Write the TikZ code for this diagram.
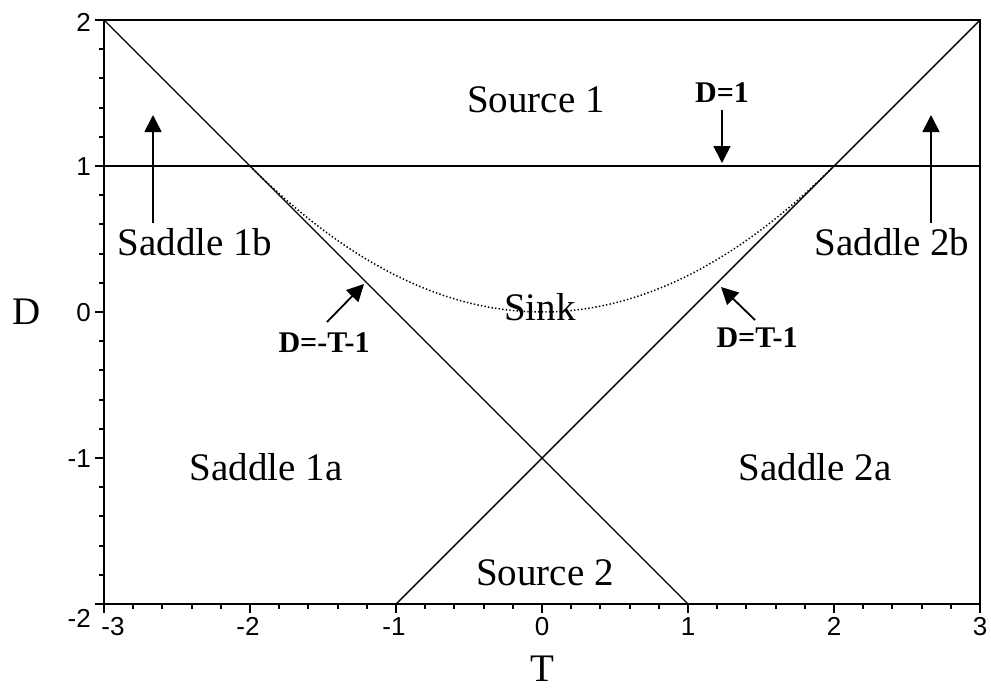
\documentclass[tikz,border=0pt]{standalone}
\usepackage{fontspec}
\setmainfont{Liberation Serif}
\setsansfont{Liberation Sans}
\usetikzlibrary{arrows.meta}
\begin{document}
\begin{tikzpicture}[x=1pt,y=-1pt,
  region/.style={font=\fontsize{39}{39}\selectfont, inner sep=0pt, anchor=base},
  eqlabel/.style={font=\bfseries\fontsize{30}{30}\selectfont, inner sep=0pt, anchor=base},
  axlabel/.style={font=\fontsize{39}{39}\selectfont, inner sep=0pt, anchor=base},
  ticklabel/.style={font=\sffamily\fontsize{26}{26}\selectfont, inner sep=0pt},
  frame/.style={line width=2pt},
  curveline/.style={line width=1.4pt},
  ptr/.style={line width=1.8pt, -{Triangle[length=17pt,width=17pt]}},
  dotline/.style={line width=1.5pt, dash pattern=on 1.4pt off 2.2pt}
]
\useasboundingbox (0,0) rectangle (991,689);
% frame
\draw[frame] (104,20) rectangle (980,604);
% ticks left
\foreach \i in {0,...,20}{
  \pgfmathsetmacro\yy{20+29.2*\i}
  \draw[frame] (104,\yy) -- (99,\yy);
}
\foreach \i in {0,5,10,15,20}{
  \pgfmathsetmacro\yy{20+29.2*\i}
  \draw[frame] (104,\yy) -- (95,\yy);
}
% ticks bottom
\foreach \i in {0,...,30}{
  \pgfmathsetmacro\xx{104+29.2*\i}
  \draw[frame] (\xx,604) -- (\xx,609);
}
\foreach \i in {0,5,10,15,20,25,30}{
  \pgfmathsetmacro\xx{104+29.2*\i}
  \draw[frame] (\xx,604) -- (\xx,613);
}
% tick labels
\node[ticklabel, anchor=base east] (ly2) at (91,31) {2};
\node[ticklabel, anchor=base east] (ly1) at (91,175) {1};
\node[ticklabel, anchor=base east] (ly0) at (91,321) {0};
\node[ticklabel, anchor=base east] (lym1) at (91,467) {-1};
\node[ticklabel, anchor=base east] (lym2) at (91,627) {-2};
\node[ticklabel, anchor=base] (lxm3) at (113,635) {-3};
\node[ticklabel, anchor=base] (lxm2) at (248,635) {-2};
\node[ticklabel, anchor=base] (lxm1) at (394,635) {-1};
\node[ticklabel, anchor=base] (lx0) at (542,635) {0};
\node[ticklabel, anchor=base] (lx1) at (688,635) {1};
\node[ticklabel, anchor=base] (lx2) at (834,635) {2};
\node[ticklabel, anchor=base] (lx3) at (980,635) {3};
% axis labels
\node[axlabel] (axD) at (27,324) {D};
\node[axlabel] (axT) at (542,681) {T};
% lines
\draw[frame] (104,166) -- (980,166);
\draw[curveline] (104,20) -- (688,604);
\draw[curveline] (396,604) -- (980,20);
\draw[dotline] plot[domain=-2:2, samples=80] ({542+146*\x},{312-36.5*\x*\x});
% region labels
\node[region] (src1) at (536,112) {Source 1};
\node[region] (s1b) at (195,255) {Saddle 1b};
\node[region] (s2b) at (892,255) {Saddle 2b};
\node[region] (sink) at (540,320) {Sink};
\node[region] (s1a) at (266,480) {Saddle 1a};
\node[region] (s2a) at (815,480) {Saddle 2a};
\node[region] (src2) at (545,585) {Source 2};
% equation labels
\node[eqlabel] (eqd1) at (722,102) {D=1};
\node[eqlabel] (eqm) at (324,352) {D=-T-1};
\node[eqlabel] (eqp) at (757,347) {D=T-1};
% arrows
\coordinate (a1s) at (153,223); \coordinate (a1e) at (153,115);
\coordinate (a2s) at (931,223); \coordinate (a2e) at (931,115);
\coordinate (a3s) at (722,110); \coordinate (a3e) at (722,163);
\coordinate (a4s) at (327,322); \coordinate (a4e) at (364,284);
\coordinate (a5s) at (755,320); \coordinate (a5e) at (721,287);
\draw[ptr] (a1s) -- (a1e);
\draw[ptr] (a2s) -- (a2e);
\draw[ptr] (a3s) -- (a3e);
\draw[ptr] (a4s) -- (a4e);
\draw[ptr] (a5s) -- (a5e);
\end{tikzpicture}
\end{document}
